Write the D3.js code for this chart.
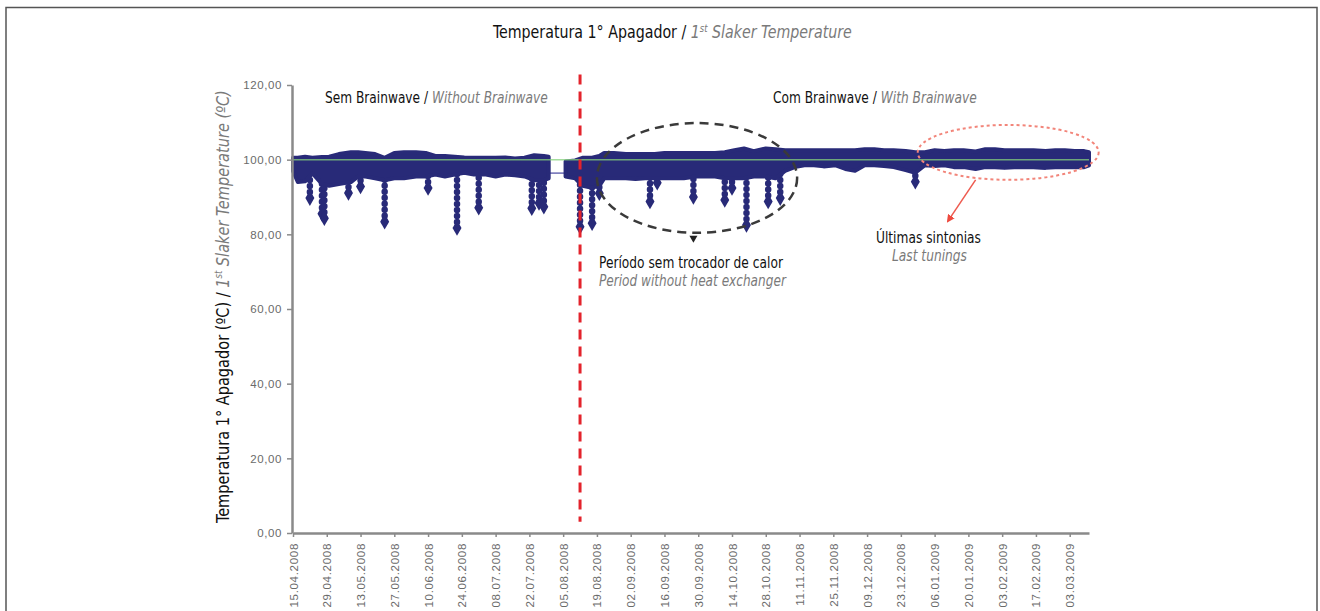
<!DOCTYPE html>
<html>
<head>
<meta charset="utf-8">
<script src="https://cdn.jsdelivr.net/npm/d3@7"></script>
<style>
    html, body { margin: 0; padding: 0; background: #fff; }
    svg { display: block; }
    text { font-family: "DejaVu Sans Condensed", "Liberation Sans", sans-serif; }
</style>
</head>
<body>
<div id="chart-container"></div>
<script>
// x axis tick labels (every 14 days)
const tickLabels = [
    '15.04.2008', '29.04.2008', '13.05.2008', '27.05.2008', '10.06.2008', '24.06.2008',
    '08.07.2008', '22.07.2008', '05.08.2008', '19.08.2008', '02.09.2008', '16.09.2008',
    '30.09.2008', '14.10.2008', '28.10.2008', '11.11.2008', '25.11.2008', '09.12.2008',
    '23.12.2008', '06.01.2009', '20.01.2009', '03.02.2009', '17.02.2009', '03.03.2009',
];
const yTicks = [0, 20, 40, 60, 80, 100, 120];

// dense band of the temperature series: upper / lower envelope
// (null = no data, the instrument gap before the change-over)
const bandDates = [
    '15.04.2008', '17.04.2008', '20.04.2008', '23.04.2008', '27.04.2008', '30.04.2008',
    '04.05.2008', '09.05.2008', '12.05.2008', '15.05.2008', '19.05.2008', '23.05.2008',
    '27.05.2008', '31.05.2008', '05.06.2008', '09.06.2008', '13.06.2008', '17.06.2008',
    '21.06.2008', '25.06.2008', '29.06.2008', '04.07.2008', '08.07.2008', '12.07.2008',
    '16.07.2008', '20.07.2008', '24.07.2008', '28.07.2008', '30.07.2008', '02.08.2008',
    '06.08.2008', '10.08.2008', '13.08.2008', '17.08.2008', '20.08.2008', '22.08.2008',
    '26.08.2008', '31.08.2008', '04.09.2008', '08.09.2008', '12.09.2008', '16.09.2008',
    '20.09.2008', '24.09.2008', '29.09.2008', '03.10.2008', '07.10.2008', '11.10.2008',
    '15.10.2008', '19.10.2008', '23.10.2008', '28.10.2008', '01.11.2008', '05.11.2008',
    '09.11.2008', '13.11.2008', '17.11.2008', '21.11.2008', '26.11.2008', '30.11.2008',
    '04.12.2008', '08.12.2008', '12.12.2008', '16.12.2008', '20.12.2008', '25.12.2008',
    '29.12.2008', '02.01.2009', '06.01.2009', '10.01.2009', '14.01.2009', '18.01.2009',
    '23.01.2009', '27.01.2009', '31.01.2009', '04.02.2009', '08.02.2009', '12.02.2009',
    '16.02.2009', '21.02.2009', '25.02.2009', '01.03.2009', '05.03.2009', '09.03.2009',
    '11.03.2009',
];
const bandHigh = [
    100.5, 100.5, 100.8, 100.5, 100.7, 100.8,
    101.5, 102.0, 102.0, 101.8, 101.5, 100.5,
    101.8, 102.0, 102.0, 101.8, 101.0, 101.0,
    100.8, 100.6, 100.5, 100.5, 100.5, 100.6,
    100.3, 100.5, 101.2, 101.0, 100.8, null,
    99.5, 99.8, 100.5, 100.5, 101.0, 101.8,
    101.8, 101.5, 101.5, 101.5, 101.5, 101.8,
    101.8, 101.8, 101.8, 101.8, 101.8, 102.0,
    102.5, 103.0, 102.3, 103.0, 102.8, 102.5,
    102.5, 102.5, 102.5, 102.5, 102.5, 102.5,
    102.5, 102.8, 102.8, 102.5, 102.5, 102.3,
    102.0, 102.0, 102.5, 102.3, 102.5, 102.5,
    102.2, 102.8, 102.8, 102.5, 102.5, 102.5,
    102.5, 102.3, 102.5, 102.5, 102.3, 102.3,
    102.0,
];
const bandLow = [
    97.0, 94.0, 94.2, 96.4, 93.5, 93.0,
    93.5, 94.0, 95.5, 95.5, 95.0, 94.5,
    95.0, 95.0, 95.5, 95.5, 96.0, 95.5,
    96.0, 96.5, 96.0, 96.0, 95.5, 96.0,
    95.8, 95.5, 94.5, 94.5, 95.0, null,
    95.5, 95.0, 93.0, 92.5, 93.0, 95.0,
    95.0, 95.0, 94.8, 95.0, 95.0, 95.0,
    95.0, 95.0, 95.5, 95.5, 95.5, 95.0,
    95.0, 95.0, 95.5, 95.5, 95.0, 97.0,
    98.0, 98.5, 98.5, 98.2, 98.5, 97.5,
    97.0, 98.5, 98.5, 98.3, 98.0, 97.2,
    96.5, 98.5, 98.3, 98.5, 98.0, 98.0,
    97.5, 98.0, 98.0, 97.8, 98.0, 98.0,
    98.0, 97.8, 98.0, 98.0, 98.0, 98.0,
    98.5,
];

// isolated drops below the band
const spikeDates = [
    '22.04.2008', '27.04.2008', '28.04.2008', '08.05.2008', '13.05.2008', '23.05.2008',
    '10.06.2008', '22.06.2008', '01.07.2008', '23.07.2008', '26.07.2008', '28.07.2008',
    '12.08.2008', '17.08.2008', '20.08.2008', '10.09.2008', '13.09.2008', '28.09.2008',
    '11.10.2008', '14.10.2008', '20.10.2008', '29.10.2008', '03.11.2008', '29.12.2008',
];
const spikeMin = [
    89.7, 85.5, 84.3, 91.1, 92.8, 83.4,
    92.4, 81.7, 87.1, 87.0, 88.4, 87.4,
    82.0, 83.0, 91.0, 88.8, 93.8, 90.0,
    89.2, 92.4, 82.5, 88.8, 89.7, 94.1,
];

// connecting line across the data gap
const gapDates = ['30.07.2008', '06.08.2008'];
const gapValues = [96.4, 96.4];

const setPoint = 100;
const changeOverDate = '12.08.2008';

const parse = d3.timeParse('%d.%m.%Y');
const fmtDate = d3.timeFormat('%d.%m.%Y');

const W = 1320, H = 611;
const NAVY = '#282a78';
const GREY_TEXT = '#7a7a7a';
const TICK_FONT = '"Liberation Sans", Arial, sans-serif';

const svg = d3
    .select('#chart-container')
    .append('svg')
    .attr('width', W)
    .attr('height', H)
    .attr('viewBox', [0, 0, W, H]);

// outer frame (runs off the bottom of the picture)
svg.append('rect')
    .attr('x', 6)
    .attr('y', 7.5)
    .attr('width', 1311)
    .attr('height', 640)
    .attr('fill', 'none')
    .attr('stroke', '#555')
    .attr('stroke-width', 1.5);

const x = d3.scaleTime().domain([parse('15.04.2008'), parse('11.03.2009')]).range([293, 1089]);
const y = d3.scaleLinear().domain([0, 120]).range([533, 85]);

// ---- series
const band = bandDates.map((d, i) => ({ date: parse(d), hi: bandHigh[i], lo: bandLow[i] }));
const spikes = spikeDates.map((d, i) => ({ date: parse(d), min: spikeMin[i] }));
const gap = gapDates.map((d, i) => ({ date: parse(d), v: gapValues[i] }));

const dataGroup = svg.append('g');

dataGroup.append('path')
    .datum(gap)
    .attr('fill', 'none')
    .attr('stroke', '#6b6bb4')
    .attr('stroke-width', 1.5)
    .attr('d', d3.line().x((d) => x(d.date)).y((d) => y(d.v)));

// spikes: thin stem with a chain of beads, diamond at the bottom
const spikeG = dataGroup.selectAll('g.spike').data(spikes).join('g').attr('class', 'spike');
spikeG.append('line')
    .attr('x1', (d) => x(d.date))
    .attr('x2', (d) => x(d.date))
    .attr('y1', y(97))
    .attr('y2', (d) => y(d.min))
    .attr('stroke', NAVY)
    .attr('stroke-width', 2.5);
spikeG.append('line')
    .attr('x1', (d) => x(d.date))
    .attr('x2', (d) => x(d.date))
    .attr('y1', (d) => y(d.min))
    .attr('y2', y(97))
    .attr('stroke', NAVY)
    .attr('stroke-width', 6.5)
    .attr('stroke-linecap', 'round')
    .attr('stroke-dasharray', '0 6');
spikeG.append('path')
    .attr('transform', (d) => `translate(${x(d.date)},${y(d.min)})`)
    .attr('d', d3.symbol(d3.symbolDiamond, 70))
    .attr('fill', NAVY);

const area = d3
    .area()
    .defined((d) => d.hi !== null)
    .x((d) => x(d.date))
    .y0((d) => y(d.lo))
    .y1((d) => y(d.hi));
dataGroup.append('path')
    .datum(band)
    .attr('fill', NAVY)
    .attr('stroke', NAVY)
    .attr('stroke-width', 4)
    .attr('stroke-linejoin', 'round')
    .attr('d', area);

// set point line
svg.append('line')
    .attr('x1', x.range()[0])
    .attr('x2', x.range()[1])
    .attr('y1', y(setPoint))
    .attr('y2', y(setPoint))
    .attr('stroke', '#86d27c')
    .attr('stroke-opacity', 0.75)
    .attr('stroke-width', 1.5);

// ---- axes
const yAxis = svg.append('g')
    .attr('transform', `translate(${x.range()[0] - 1},0)`)
    .call(
        d3.axisLeft(y)
            .tickValues(yTicks)
            .tickSize(5)
            .tickSizeOuter(0)
            .tickPadding(5)
            .tickFormat((d) => d3.format('.2f')(d).replace('.', ',')),
    );
yAxis.select('.domain').attr('stroke', '#8a8a8a').attr('stroke-width', 2.5);
yAxis.selectAll('.tick line').attr('stroke', '#8a8a8a').attr('stroke-width', 1.5);
yAxis.selectAll('.tick text')
    .attr('fill', '#6a6a6a')
    .attr('font-size', 11.5)
    .attr('letter-spacing', '0.6px')
    .style('font-family', TICK_FONT);

const xAxis = svg.append('g')
    .attr('transform', `translate(0,${y(0)})`)
    .call(
        d3.axisBottom(x)
            .tickValues(tickLabels.map(parse))
            .tickSize(4)
            .tickSizeOuter(0)
            .tickFormat(fmtDate),
    );
xAxis.select('.domain').attr('stroke', '#8a8a8a').attr('stroke-width', 2.5);
xAxis.selectAll('.tick line').attr('stroke', '#8a8a8a').attr('stroke-width', 1.5);
xAxis.selectAll('.tick text')
    .attr('fill', '#6a6a6a')
    .attr('font-size', 11.5)
    .attr('letter-spacing', '0.7px')
    .attr('text-anchor', 'end')
    .attr('transform', 'rotate(-90)')
    .attr('x', -10)
    .attr('y', 0)
    .attr('dy', '0.35em')
    .style('font-family', TICK_FONT);

// ---- change-over marker
svg.append('line')
    .attr('x1', x(parse(changeOverDate)))
    .attr('x2', x(parse(changeOverDate)))
    .attr('y1', y(122.8))
    .attr('y2', y(3))
    .attr('stroke', '#e3232c')
    .attr('stroke-width', 3)
    .attr('stroke-dasharray', '10 7');

// ---- annotation ellipses
function ellipse(d0, d1, t0, t1) {
    const x0 = x(parse(d0)), x1 = x(parse(d1));
    const y0 = y(t1), y1 = y(t0);
    return { cx: (x0 + x1) / 2, cy: (y0 + y1) / 2, rx: (x1 - x0) / 2, ry: (y1 - y0) / 2 };
}
const heatEllipse = ellipse('19.08.2008', '10.11.2008', 80.4, 109.8);
svg.append('ellipse')
    .attr('cx', heatEllipse.cx)
    .attr('cy', heatEllipse.cy)
    .attr('rx', heatEllipse.rx)
    .attr('ry', heatEllipse.ry)
    .attr('fill', 'none')
    .attr('stroke', '#3a3a3a')
    .attr('stroke-width', 2.5)
    .attr('stroke-dasharray', '9 6');
svg.append('path')
    .attr('transform', `translate(${x(parse('28.09.2008'))},${y(79)}) rotate(180)`)
    .attr('d', d3.symbol(d3.symbolTriangle, 28))
    .attr('fill', '#222');

const tuneEllipse = ellipse('30.12.2008', '15.03.2009', 94.6, 109.3);
svg.append('ellipse')
    .attr('cx', tuneEllipse.cx)
    .attr('cy', tuneEllipse.cy)
    .attr('rx', tuneEllipse.rx)
    .attr('ry', tuneEllipse.ry)
    .attr('fill', 'none')
    .attr('stroke', '#f2857a')
    .attr('stroke-width', 2)
    .attr('stroke-dasharray', '3 3');

svg.append('defs')
    .append('marker')
    .attr('id', 'red-arrow')
    .attr('markerWidth', 8)
    .attr('markerHeight', 8)
    .attr('refX', 4)
    .attr('refY', 4)
    .attr('orient', 'auto')
    .attr('markerUnits', 'userSpaceOnUse')
    .append('path')
    .attr('d', 'M0,0L8,4L0,8z')
    .attr('fill', '#ee4a3f');
svg.append('line')
    .attr('x1', x(parse('23.01.2009')))
    .attr('y1', y(94.6))
    .attr('x2', x(parse('12.01.2009')))
    .attr('y2', y(84))
    .attr('stroke', '#ee5a4f')
    .attr('stroke-width', 1.5)
    .attr('marker-end', 'url(#red-arrow)');

// ---- texts: condensed look, each one squeezed horizontally to the reference width
function label(size) {
    return svg.append('text').attr('font-size', size);
}
function fit(sel, px, py, len, rotate) {
    const w = sel.node().getComputedTextLength();
    const s = len / w;
    sel.attr('transform', `translate(${px},${py})${rotate ? ' rotate(-90)' : ''} scale(${s},1)`);
    return sel;
}
function twoPart(sel, black, grey) {
    sel.append('tspan').attr('fill', '#111').text(black);
    sel.append('tspan').attr('fill', GREY_TEXT).attr('font-style', 'italic').text(grey);
    return sel;
}

const title = label(17);
title.append('tspan').attr('fill', '#111').text('Temperatura 1° Apagador / ');
title.append('tspan').attr('fill', GREY_TEXT).attr('font-style', 'italic').text('1');
title.append('tspan').attr('fill', GREY_TEXT).attr('font-style', 'italic').attr('font-size', 10).attr('dy', -6).text('st');
title.append('tspan').attr('fill', GREY_TEXT).attr('font-style', 'italic').attr('dy', 6).text(' Slaker Temperature');
fit(title, 493, 38, 359);

fit(twoPart(label(15.5), 'Sem Brainwave / ', 'Without Brainwave'), 325, 103, 223);
fit(twoPart(label(15.5), 'Com Brainwave / ', 'With Brainwave'), 773, 103, 204);

fit(label(15.5).attr('fill', '#111').text('Período sem trocador de calor'), 599, 268, 184);
fit(label(15.5).attr('fill', GREY_TEXT).attr('font-style', 'italic').text('Period without heat exchanger'), 599, 286, 187);

fit(label(15.5).attr('fill', '#111').text('Últimas sintonias'), 876, 243, 105);
fit(label(15.5).attr('fill', GREY_TEXT).attr('font-style', 'italic').text('Last tunings'), 892, 261, 75);

const yTitle = label(17);
yTitle.append('tspan').attr('fill', '#111').text('Temperatura 1° Apagador (ºC) / ');
yTitle.append('tspan').attr('fill', GREY_TEXT).attr('font-style', 'italic').text('1');
yTitle.append('tspan').attr('fill', GREY_TEXT).attr('font-style', 'italic').attr('font-size', 10).attr('dy', -7).text('st');
yTitle.append('tspan').attr('fill', GREY_TEXT).attr('font-style', 'italic').attr('dy', 7).text(' Slaker Temperature (ºC)');
fit(yTitle, 229, 523, 433, true);
</script>
</body>
</html>
